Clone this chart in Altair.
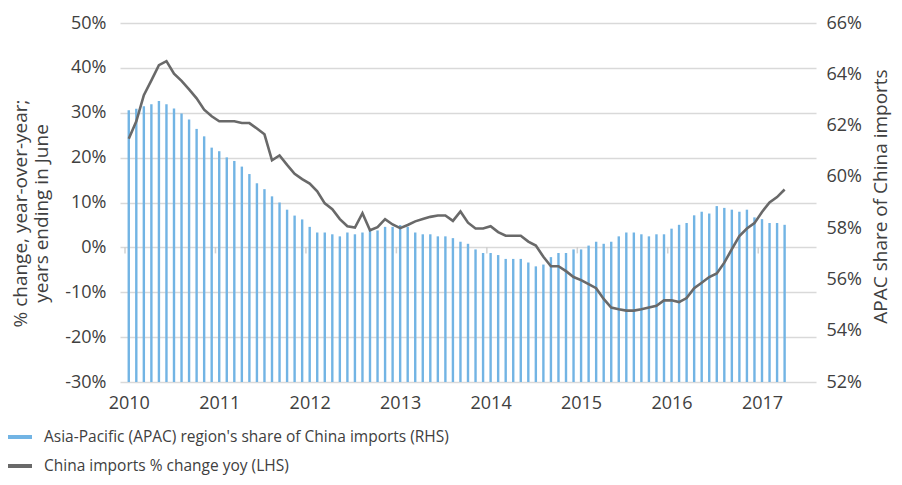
import altair as alt
import pandas as pd

# ---- data (monthly, Jan 2010 .. Apr 2017) ----
year_labels = [2010, 2011, 2012, 2013, 2014, 2015, 2016, 2017]
year_ticks = [0, 12, 24, 36, 48, 60, 72, 84]
year_bounds = [-0.5, 11.5, 23.5, 35.5, 47.5, 59.5, 71.5, 83.5]

apac_share = [
    62.60, 62.66, 62.75, 62.83, 62.96, 62.83, 62.67, 62.47, 62.24, 61.87, 61.58, 61.14,
    61.00, 60.76, 60.62, 60.40, 60.11, 59.75, 59.52, 59.24, 59.00, 58.72, 58.49, 58.34,
    58.05, 57.83, 57.83, 57.76, 57.68, 57.83, 57.76, 57.83, 57.94, 57.91, 58.05, 58.05,
    58.12, 58.05, 57.83, 57.76, 57.76, 57.68, 57.68, 57.61, 57.47, 57.39, 57.17, 57.03,
    57.03, 56.95, 56.80, 56.80, 56.80, 56.66, 56.51, 56.58, 56.87, 57.03, 57.03, 57.17,
    57.17, 57.32, 57.47, 57.39, 57.47, 57.68, 57.83, 57.83, 57.76, 57.68, 57.76, 57.76,
    57.98, 58.13, 58.20, 58.50, 58.64, 58.57, 58.86, 58.79, 58.72, 58.64, 58.72, 58.42,
    58.35, 58.20, 58.20, 58.13,
]

china_yoy = [
    24.2, 28.1, 33.9, 37.2, 40.6, 41.5, 38.7, 37.1, 35.2, 33.2, 30.7, 29.2,
    28.1, 28.1, 28.1, 27.7, 27.7, 26.5, 25.2, 19.4, 20.5, 18.4, 16.4, 15.2,
    14.2, 12.5, 9.8, 8.5, 6.3, 4.7, 4.4, 7.6, 3.8, 4.5, 6.3, 5.1,
    4.3, 5.0, 5.8, 6.3, 6.8, 7.1, 7.1, 5.9, 8.0, 5.5, 4.2, 4.2,
    4.7, 3.4, 2.6, 2.6, 2.6, 1.3, 0.4, -2.1, -4.2, -4.2, -5.3, -6.6,
    -7.3, -8.2, -9.1, -11.5, -13.4, -13.8, -14.1, -14.1, -13.8, -13.4, -13.0, -11.8,
    -11.8, -12.2, -11.3, -9.1, -7.9, -6.6, -5.8, -3.4, -0.4, 2.5, 4.2, 5.4,
    7.9, 10.0, 11.2, 12.9,
]

apac_name = "Asia-Pacific (APAC) region's share of China imports (RHS)"
china_name = "China imports % change yoy (LHS)"

left_values = [-30, -20, -10, 0, 10, 20, 30, 40, 50]
right_values = [52, 54, 56, 58, 60, 62, 64, 66]

# ---- styling ----
BLUE = "#72B4E4"
GREY = "#696969"
TEXT = "#404040"
GRID = "#D9D9D9"
FONT = "Open Sans"

df = pd.DataFrame({
    "k": list(range(len(apac_share))),
    "apac": apac_share,
    "china": china_yoy,
    "series": [china_name] * len(china_yoy),
})
ticks_df = pd.DataFrame({"k": year_bounds, "china": [0] * len(year_bounds)})

x_scale = alt.Scale(domain=[-0.5, 90.5], nice=False, zero=False)
left_scale = alt.Scale(domain=[-30, 50], nice=False, zero=False)

x_axis = alt.Axis(
    values=year_ticks, labelExpr="'' + (2010 + datum.value / 12)",
    grid=False, domain=False, ticks=False, labelPadding=12, title=None,
)
left_axis = alt.Axis(
    orient="left", values=left_values, labelExpr="datum.value + '%'",
    grid=True, gridColor=GRID, gridWidth=1.6, domain=False, ticks=False,
    labelPadding=14,
    title=["% change, year-over-year;", "years ending in June"],
    titleAngle=270, titleX=-94, titleY=190, titleAlign="center",
    titleBaseline="alphabetic", titleLineHeight=21,
)

bars = alt.Chart(df).mark_bar(color=BLUE, size=2.4).encode(
    x=alt.X("k:Q", scale=x_scale, axis=x_axis),
    y=alt.Y(
        "apac:Q",
        scale=alt.Scale(domain=[52, 66], nice=False, zero=False),
        axis=alt.Axis(
            orient="right", values=right_values, labelExpr="datum.value + '%'",
            grid=False, domain=False, ticks=False, labelPadding=10,
            title="APAC share of China imports", titleAngle=270,
            titleX=70, titleY=173, titleAlign="center", titleBaseline="alphabetic",
        ),
    ),
    y2=alt.datum(52),
)

line = alt.Chart(df).mark_line(strokeWidth=2.6).encode(
    x=alt.X("k:Q", scale=x_scale, axis=x_axis),
    y=alt.Y("china:Q", scale=left_scale, axis=left_axis),
    color=alt.Color(
        "series:N",
        scale=alt.Scale(domain=[apac_name, china_name], range=[BLUE, GREY]),
        legend=alt.Legend(
            orient="none", legendX=-114, legendY=400, title=None,
            symbolType="stroke", symbolStrokeWidth=4, symbolSize=576,
            labelFontSize=15.5, labelColor=TEXT, labelFont=FONT, labelLimit=0,
            labelOffset=10, rowPadding=6, direction="vertical",
        ),
    ),
)

zero_ticks = alt.Chart(ticks_df).mark_tick(
    orient="vertical", color="#BFBFBF", thickness=1.5, size=6, yOffset=3
).encode(
    x=alt.X("k:Q", scale=x_scale, axis=x_axis),
    y=alt.Y("china:Q", scale=left_scale, axis=left_axis),
)

left = alt.layer(line, zero_ticks)

chart = (
    alt.layer(bars, left)
    .resolve_scale(y="independent")
    .properties(
        width=696, height=359,
        padding={"left": 112, "top": 15, "right": 78, "bottom": 95},
        autosize=alt.AutoSizeParams(type="none"),
        background="white",
    )
    .configure_view(stroke=None)
    .configure_axis(
        labelFont=FONT, titleFont=FONT, labelColor=TEXT, titleColor=TEXT,
        labelFontSize=18, titleFontSize=19, titleFontWeight="normal",
    )
)

chart.save("out.html", embed_options={"renderer": "svg", "actions": False})
